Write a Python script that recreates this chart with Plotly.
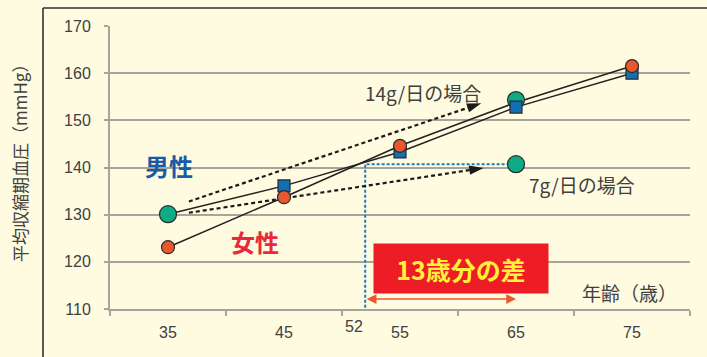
import plotly.graph_objects as go

# ---- data ----
ages = [35, 45, 55, 65, 75]
age_labels = ["35", "45", "55", "65", "75"]
male_bp = [130.1, 136.1, 143.3, 152.8, 160.0]
female_bp = [123.1, 133.7, 144.6, 153.8, 161.5]
male_marker_size = [0, 12, 12, 12, 12]
female_marker_size = [13, 13, 13, 0, 13]
salt_x = [35, 65, 65]
salt_y = [130.1, 154.3, 140.7]
arrow14_x = [36.8, 62.0]
arrow14_y = [132.8, 153.6]
arrow7_x = [36.8, 62.2]
arrow7_y = [130.4, 139.9]
guide_x = [52, 52, 65]
guide_y = [109.2, 140.7, 140.7]
gap_from, gap_to, gap_level = 52, 65, 112.1
y_ticks = [110, 120, 130, 140, 150, 160, 170]
x_minor = [30, 40, 50, 60, 70, 80]

BG = "#FEFBE1"
GRID = "#A6A59C"
TXT = "#404040"
JP = "Noto Sans CJK JP"
NUM = "Liberation Sans, Arial, sans-serif"

fig = go.Figure()

# guide dotted blue line
fig.add_trace(go.Scatter(x=guide_x, y=guide_y, mode="lines",
                         line=dict(color="#1B7CC0", width=2, dash="3px,2px"),
                         hoverinfo="skip", cliponaxis=False))
# dotted arrows
for ax_, ay_ in [(arrow14_x, arrow14_y), (arrow7_x, arrow7_y)]:
    fig.add_trace(go.Scatter(x=ax_, y=ay_, mode="lines+markers",
                             line=dict(color="#1a1a1a", width=2.2, dash="4px,3px"),
                             marker=dict(symbol="arrow", size=[0, 15], color="#1a1a1a",
                                         angleref="previous", line=dict(width=0), opacity=1),
                             hoverinfo="skip"))
# lines
fig.add_trace(go.Scatter(x=ages, y=female_bp, mode="lines",
                         line=dict(color="#222", width=1.5), hoverinfo="skip"))
fig.add_trace(go.Scatter(x=ages, y=male_bp, mode="lines",
                         line=dict(color="#222", width=1.5), hoverinfo="skip"))
# green circles
fig.add_trace(go.Scatter(x=salt_x, y=salt_y, mode="markers",
                         marker=dict(symbol="circle", size=17, color="#0FAA86", opacity=1,
                                     line=dict(color="#2a2a2a", width=1.2))))
# male squares
fig.add_trace(go.Scatter(x=ages, y=male_bp, mode="markers",
                         marker=dict(symbol="square", size=male_marker_size, color="#1170B5", opacity=1,
                                     line=dict(color="#2a2a2a", width=1.2))))
# female circles
fig.add_trace(go.Scatter(x=ages, y=female_bp, mode="markers",
                         marker=dict(symbol="circle", size=female_marker_size, color="#E8582C", opacity=1,
                                     line=dict(color="#2a2a2a", width=1.2))))

ann = []
ann.append(dict(xref="x", yref="y", x=35.1, y=140.5, text="<b>男性</b>", showarrow=False,
                font=dict(family=JP, size=24, color="#1A5BA6")))
ann.append(dict(xref="x", yref="y", x=42.5, y=124.4, text="<b>女性</b>", showarrow=False,
                font=dict(family=JP, size=24, color="#E8283C")))
ann.append(dict(xref="x", yref="y", x=57.0, y=156.0, text="14g/日の場合", showarrow=False,
                font=dict(family=JP, size=19, color=TXT)))
ann.append(dict(xref="x", yref="y", x=70.7, y=136.3, text="7g/日の場合", showarrow=False,
                font=dict(family=JP, size=19, color=TXT)))
ann.append(dict(xref="x", yref="y", x=74.8, y=113.6, text="年齢（歳）", showarrow=False,
                font=dict(family=JP, size=19, color=TXT)))
ann.append(dict(x=51.0, xref="x", yref="paper", y=(309 - 326) / 283, text="52",
                xanchor="center", yanchor="middle",
                showarrow=False, font=dict(family=NUM, size=16, color=TXT)))
ann.append(dict(xref="x", yref="y", x=60.25, y=118.6, text="<b>13歳分の差</b>", showarrow=False,
                width=174, height=49, bgcolor="#EE1C25", borderpad=0,
                font=dict(family=JP, size=25, color="#FFF03A")))
ann.append(dict(x=gap_to, y=gap_level, ax=gap_from, ay=gap_level, axref="x", ayref="y",
                xref="x", yref="y", text="", showarrow=True, arrowside="end+start",
                arrowhead=2, arrowsize=1.3, arrowwidth=1.5, arrowcolor="#E8582C",
                standoff=0, startstandoff=0))
ann.append(dict(xref="paper", yref="paper", x=(19 - 110) / 580, y=0.53,
                xanchor="center", yanchor="middle",
                text="平均収縮期血圧（mmHg）", textangle=-90, showarrow=False,
                font=dict(family=JP, size=17, color=TXT)))

shapes = [
    dict(type="line", xref="paper", yref="paper", x0=(43 - 110) / 580, x1=(707 - 110) / 580,
         y0=1 + 18 / 283, y1=1 + 18 / 283, line=dict(color="#333", width=1.6)),
    dict(type="line", xref="paper", yref="paper", x0=(43 - 110) / 580, x1=(43 - 110) / 580,
         y0=1 + 18 / 283, y1=(309 - 360) / 283, line=dict(color="#333", width=1.6)),
]

fig.update_layout(
    width=707, height=357,
    margin=dict(l=110, r=17, t=26, b=48),
    paper_bgcolor=BG, plot_bgcolor=BG,
    showlegend=False,
    annotations=ann, shapes=shapes,
    xaxis=dict(range=[30, 80], tickmode="array", tickvals=ages, ticktext=age_labels,
               ticks="outside", ticklen=0, showgrid=False, zeroline=False,
               showline=True, linecolor=GRID, linewidth=2,
               ticklabelstandoff=8,
               tickfont=dict(family=NUM, size=16, color=TXT),
               minor=dict(tickmode="array", tickvals=x_minor, ticks="outside",
                          ticklen=5, tickwidth=2, tickcolor=GRID, showgrid=False)),
    yaxis=dict(range=[110, 170], tickmode="array", tickvals=y_ticks,
               ticks="outside", ticklen=4, tickwidth=2, tickcolor=GRID,
               showgrid=True, gridcolor=GRID, gridwidth=2, zeroline=False,
               showline=True, linecolor=GRID, linewidth=2,
               ticklabelstandoff=10,
               tickfont=dict(family=NUM, size=16, color=TXT)),
)

fig.write_html("out.html")
